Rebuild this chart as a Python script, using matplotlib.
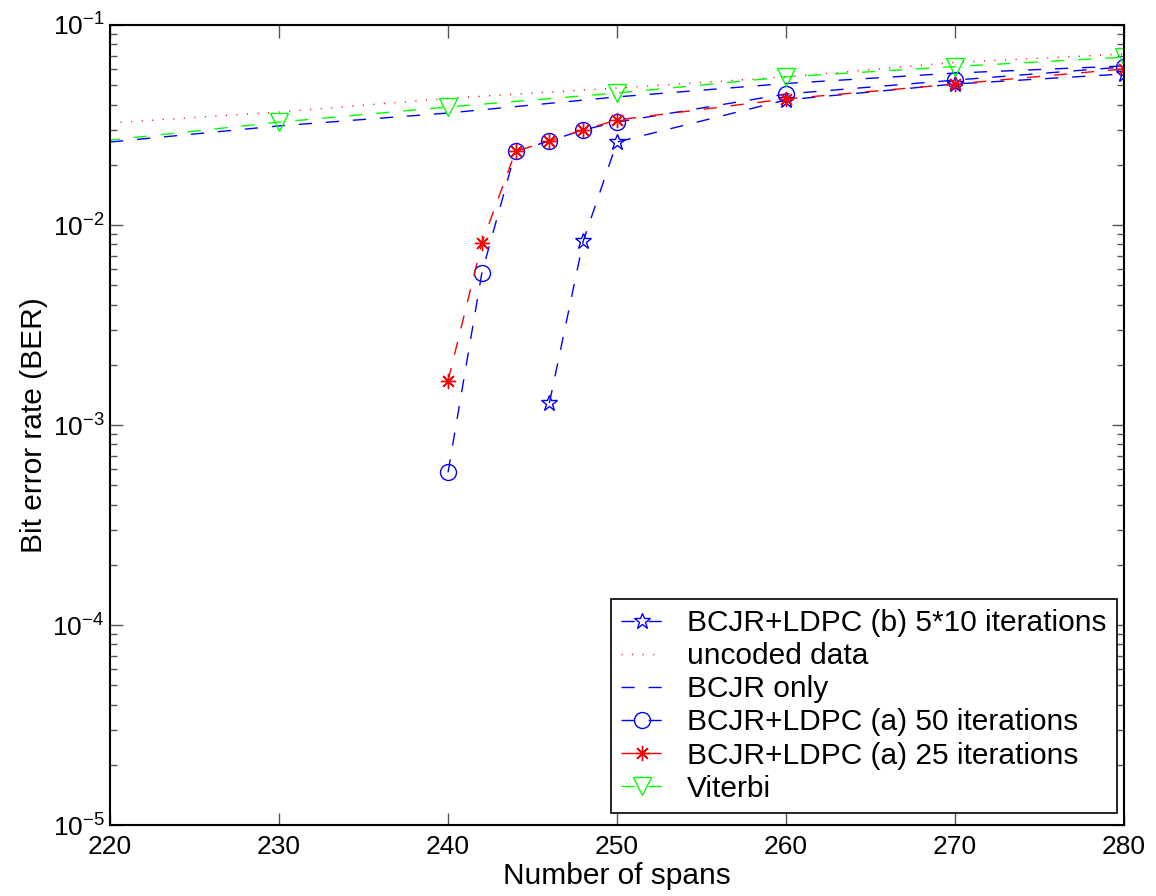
import numpy as np
import matplotlib
matplotlib.use("Agg")
import matplotlib.pyplot as plt

plt.rcParams['font.family'] = ['Liberation Sans', 'DejaVu Sans']
plt.rcParams['mathtext.fontset'] = 'custom'
plt.rcParams['mathtext.rm'] = 'Liberation Sans'
plt.rcParams['mathtext.default'] = 'regular'

# datos
spans_b = [246, 248, 250, 260, 270, 280]
ber_b = [1.29e-3, 8.3e-3, 0.026, 0.0422, 0.0507, 0.0569]

spans_unc = [220, 230, 240, 250, 260, 270, 280]
ber_unc = [0.0324, 0.0367, 0.043, 0.0484, 0.055, 0.065, 0.0716]

spans_bcjr = [220, 230, 240, 250, 260, 270, 280]
ber_bcjr = [0.026, 0.0313, 0.0363, 0.0437, 0.051, 0.0575, 0.0624]

spans_a = [240, 242, 244, 246, 248, 250, 260, 270, 280]
ber_a50 = [5.8e-4, 5.75e-3, 0.0234, 0.0263, 0.0299, 0.0327, 0.0452, 0.053, 0.0617]
ber_a25 = [1.66e-3, 8.1e-3, 0.0234, 0.0263, 0.0299, 0.0335, 0.0427, 0.0507, 0.0603]

spans_vit = [210, 230, 240, 250, 260, 270, 280]
ber_vit = [0.0216, 0.0327, 0.0389, 0.0457, 0.055, 0.062, 0.069]

xticks = [220, 230, 240, 250, 260, 270, 280]
yticks = [1e-5, 1e-4, 1e-3, 1e-2, 1e-1]
ytick_labels = [r'$10^{-5}$', r'$10^{-4}$', r'$10^{-3}$', r'$10^{-2}$', r'$10^{-1}$']

fig = plt.figure(figsize=(11.56, 8.96), dpi=100)
ax = fig.add_axes([0.0952, 0.0792, 0.8771, 0.8929])

dash = (9.5, 10)
ax.plot(spans_b, ber_b, color='b', lw=1, dashes=dash, marker='*', ms=12,
        mfc='none', mew=1, label='BCJR+LDPC (b) 5*10 iterations')
ax.plot(spans_unc, ber_unc, color='r', lw=1, dashes=(0.8, 6.8),
        label='uncoded data')
ax.plot(spans_bcjr, ber_bcjr, color='b', lw=1, dashes=dash, label='BCJR only')
ax.plot(spans_a, ber_a50, color='b', lw=1, dashes=dash, marker='o', ms=11.5,
        mfc='none', mew=1, label='BCJR+LDPC (a) 50 iterations')
ax.plot(spans_a, ber_a25, color='r', lw=1, dashes=dash, marker=(8, 2, 0), ms=11,
        mew=1, label='BCJR+LDPC (a) 25 iterations')
ax.plot(spans_vit, ber_vit, color=(0, 1, 0), lw=1, dashes=dash, marker='v', ms=13,
        mfc='none', mew=1, label='Viterbi')

ax.set_yscale('log')
ax.set_xlim(220, 280)
ax.set_ylim(1e-5, 1e-1)
ax.set_xticks(xticks)
ax.set_yticks(yticks)
ax.set_yticklabels(ytick_labels)

ax.tick_params(which='both', direction='in', top=True, right=True,
               labelsize=19, color='#555555')
ax.tick_params(which='major', length=9, width=1)
ax.tick_params(which='minor', length=5, width=1)
ax.tick_params(axis='x', pad=7)
ax.tick_params(axis='y', pad=4)
for s in ax.spines.values():
    s.set_linewidth(1.5)

ax.set_xlabel('Number of spans', fontsize=21.5, labelpad=2)
ax.set_ylabel('Bit error rate (BER)', fontsize=21.5, labelpad=3)

leg = ax.legend(loc='lower right', bbox_to_anchor=(0.993, 0.015),
                borderaxespad=0, fontsize=21.5, fancybox=False, framealpha=1,
                edgecolor='k', handlelength=1.37, handletextpad=0.83,
                labelspacing=0.17, borderpad=0.35, numpoints=1)
leg.get_frame().set_linewidth(1.2)

fig.savefig('out.png', dpi=100)
